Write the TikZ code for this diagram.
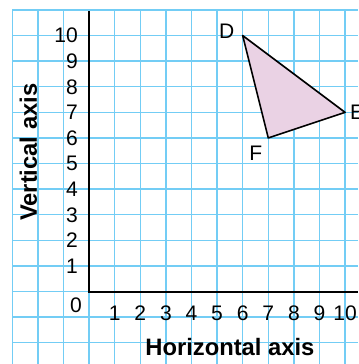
\documentclass[tikz,border=0pt]{standalone}
\usepackage{fontspec}
\setmainfont{Liberation Sans}
\definecolor{gridblue}{RGB}{115,205,245}
\definecolor{shapepink}{RGB}{234,210,228}

\begin{document}
\begin{tikzpicture}[x=0.5cm, y=0.5cm, font=\fontsize{11.7}{14}\selectfont]
    \useasboundingbox (-3.48,-2.83) rectangle (10.51,11.39);

    \draw[gridblue, line width=0.8pt, step=1] (-3,-2.83) grid (10.51,11);

    \draw[line width=1.1pt] (0,10.95) -- (0,0) -- (10.51,0);

    \foreach \n in {1,...,10}
        \node[anchor=east, inner sep=0pt] (ytick\n) at (-0.43,\n) {\n};
    \foreach \n in {1,...,10}
        \node[inner sep=0pt] (xtick\n) at (\n,-0.85) {\n};
    \node[inner sep=0pt] (origin) at (-0.51,-0.52) {0};

    \coordinate (D) at (6,10);
    \coordinate (E) at (10,7);
    \coordinate (F) at (7,6);
    \filldraw[fill=shapepink, line width=0.9pt, line join=round] (D) -- (E) -- (F) -- cycle;

    \node (labD) at (5.38,10.16) {D};
    \node (labE) at (10.47,7.0) {E};
    \node (labF) at (6.51,5.4) {F};

    \node[font=\fontsize{13.2}{16}\selectfont\bfseries] (xtitle) at (5.5,-2.15) {Horizontal axis};
    \node[font=\fontsize{13.2}{16}\selectfont\bfseries, rotate=90] (ytitle) at (-2.37,5.44) {Vertical axis};
\end{tikzpicture}
\end{document}
